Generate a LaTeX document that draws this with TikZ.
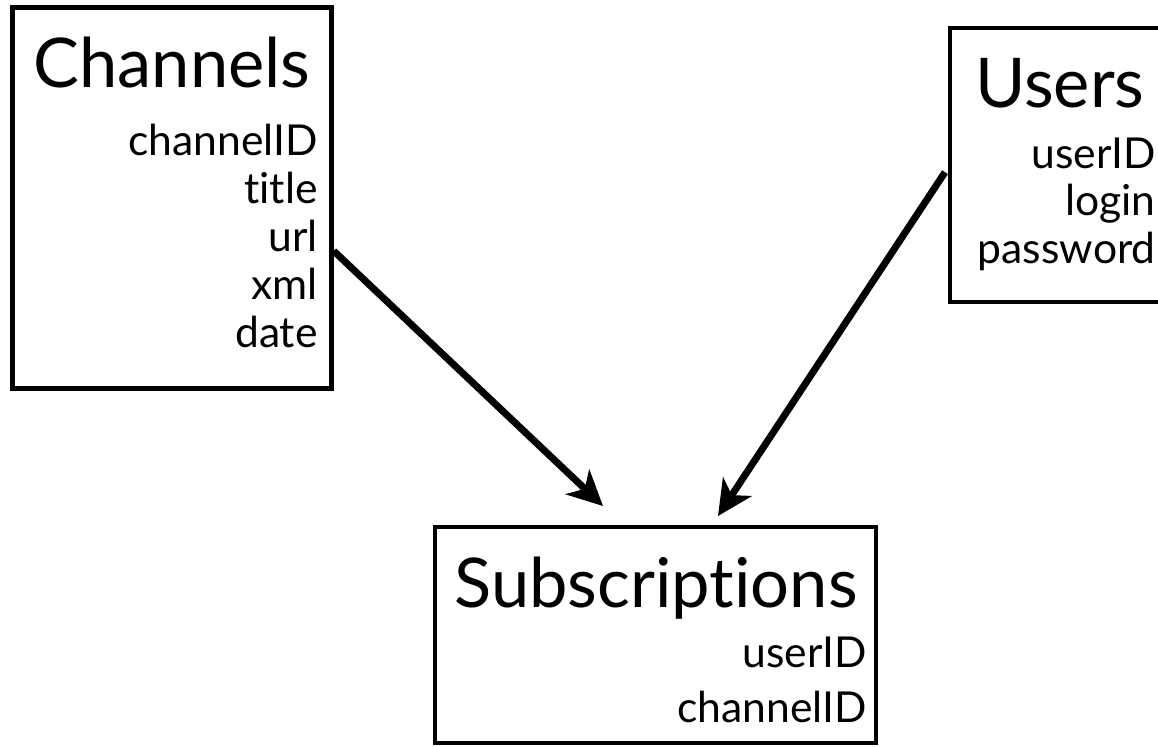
\documentclass[tikz,border=0pt]{standalone}
\usepackage{fontspec}
\setmainfont{Lato}[Ligatures=NoCommon]
\usepackage{tikz}
\usetikzlibrary{arrows.meta}

\newcommand{\tabtitlefont}{\fontsize{34.3}{40}\selectfont}
\newcommand{\tabfieldfont}{\fontsize{21.3}{26}\selectfont}

\tikzset{
  table/.style={draw, line width=2.25pt, rectangle, inner sep=0pt},
  tabletitle/.style={anchor=base, inner sep=0pt, font=\tabtitlefont},
  field/.style={anchor=base east, inner sep=0pt, font=\tabfieldfont},
  fk/.style={line width=3.5pt, -{Stealth[length=17.5pt,width=17pt,inset=5pt]}}
}

\begin{document}
\begin{tikzpicture}[x=0.5pt,y=-0.5pt]
\useasboundingbox (0,0) rectangle (1158,746);

% Tables
\node[table, minimum width=159.5pt, minimum height=190.5pt] (chan) at (172,198) {};
\node[table, minimum width=110pt, minimum height=137pt] (users) at (1060,165) {};
\node[table, minimum width=220.5pt, minimum height=108pt] (subs) at (655.5,635) {};

% Channels
\node[tabletitle] (chantitle) at (172,87) {Channels};
\node[field] (chanid) at (318,155) {channelID};
\node[field] (title) at (318,203) {title};
\node[field] (url) at (318,251) {url};
\node[field] (xml) at (318,299) {xml};
\node[field] (date) at (318,347) {date};

% Users
\node[tabletitle] (usertitle) at (1060,107) {Users};
\node[field] (uid) at (1156,168) {userID};
\node[field] (login) at (1156,215) {login};
\node[field] (pwd) at (1156,263) {password};

% Subscriptions
\node[tabletitle] (substitle) at (656,607) {Subscriptions};
\node[field] (subuid) at (867,667) {userID};
\node[field] (subcid) at (867,722) {channelID};

% Foreign keys
\coordinate (subsin1) at (603,506);
\coordinate (subsin2) at (718,516);
\draw[fk] (chan.east |- url.base) -- (subsin1);
\draw[fk, shorten <=2.5pt] (users.west |- uid.base) -- (subsin2);

\end{tikzpicture}
\end{document}
